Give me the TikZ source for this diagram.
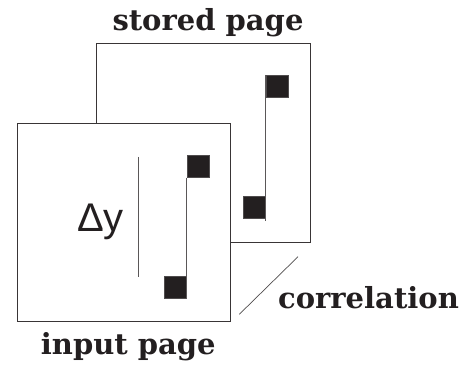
\documentclass[tikz,border=0pt]{standalone}
\usepackage{fontspec}
\setmainfont{DejaVu Serif}
\newfontfamily\symfont{Liberation Sans}
\usetikzlibrary{calc}
\definecolor{ink}{HTML}{231F20}
\begin{document}
\begin{tikzpicture}[x=1pt,y=-1pt,
  page/.style={draw=ink!90,line width=0.9pt,fill=white,inner sep=0pt,anchor=north west},
  blob/.style={fill=ink,draw=ink!80,line width=0.4pt,inner sep=0pt,minimum size=22pt,anchor=north west},
  link/.style={draw=ink!75,line width=0.9pt},
  caption/.style={font=\bfseries\fontsize{29}{32}\selectfont,text=ink,anchor=base,inner sep=0pt}]
\useasboundingbox (0,0) rectangle (463,366);

% stored page (behind)
\node[page,minimum width=214.3pt,minimum height=199pt] (stored) at (95.7,43) {};
\node[blob] (stop) at (265.7,75) {};
\node[blob] (sbot) at (243.3,196.3) {};
\draw[link] (stop.north west) -- ($(stop.north west |- sbot.south)+(0,2.5)$);

% input page (front)
\node[page,minimum width=212.7pt,minimum height=197.7pt] (input) at (17.3,123) {};
\node[blob] (itop) at (186.5,155.3) {};
\node[blob] (ibot) at (163.5,276) {};
\draw[link] (itop.south west) -- ($(itop.south west |- ibot.south)+(0,1)$);

% shift marker
\coordinate (dyt) at (138.7,157);
\coordinate (dyb) at (138.7,277.3);
\draw[link] (dyt) -- (dyb);
\node[font=\symfont\fontsize{40}{42}\selectfont,text=ink,anchor=base,inner sep=0pt] (dy) at (100.4,231) {Δy};

% correlation stroke
\coordinate (ca) at (298,256.7);
\coordinate (cb) at (239.3,314.3);
\draw[draw=ink!80,line width=0.7pt] (ca) -- (cb);

% captions
\node[caption] (lstored) at (208,30.7) {stored page};
\node[caption] (lcorr) at (368.5,308.3) {correlation};
\node[caption] (linput) at (128.3,354) {input page};
\end{tikzpicture}
\end{document}
